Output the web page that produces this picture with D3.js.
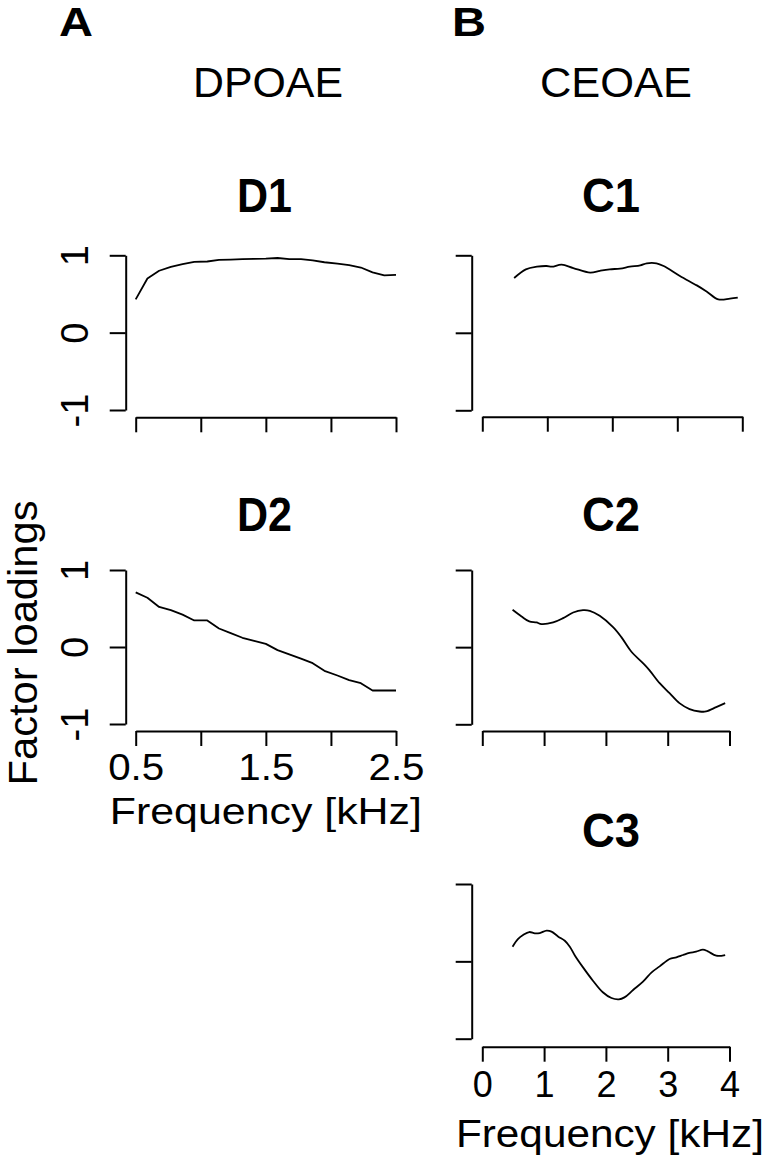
<!DOCTYPE html>
<html lang="en">
<head>
<meta charset="UTF-8">
<title>Factor loadings</title>
<script src="https://cdn.jsdelivr.net/npm/d3@7"></script>
<style>
  body { margin: 0; background: #fff; }
  text { font-family: "Liberation Sans", Arial, Helvetica, sans-serif; fill: #000; }
</style>
</head>
<body>
<div id="chart"></div>
<script>
// DPOAE factors (frequency in kHz)
var dFreq = [0.5, 0.59, 0.68, 0.77, 0.86, 0.95, 1.05, 1.14, 1.23, 1.32, 1.41, 1.5,
             1.59, 1.68, 1.77, 1.86, 1.95, 2.05, 2.14, 2.23, 2.32, 2.41, 2.5];
var d1 = [0.43, 0.70, 0.80, 0.85, 0.885, 0.915, 0.92, 0.94, 0.945, 0.95, 0.953, 0.957,
          0.965, 0.95, 0.95, 0.935, 0.91, 0.893, 0.872, 0.842, 0.78, 0.74, 0.748];
var d2 = [0.71, 0.64, 0.52, 0.48, 0.42, 0.345, 0.345, 0.24, 0.18, 0.12, 0.08, 0.04,
          -0.04, -0.095, -0.15, -0.21, -0.31, -0.37, -0.43, -0.47, -0.565, -0.565, -0.565];

// CEOAE factors
var c1Freq = [0.49, 0.67, 0.84, 0.99, 1.07, 1.22, 1.40, 1.66, 1.81, 1.96, 2.12, 2.27,
              2.43, 2.53, 2.68, 2.79, 3.04, 3.30, 3.45, 3.63, 3.81, 3.93];
var c1 = [0.707, 0.819, 0.853, 0.862, 0.853, 0.879, 0.836, 0.776, 0.80, 0.819, 0.828, 0.853,
          0.871, 0.897, 0.897, 0.862, 0.733, 0.612, 0.534, 0.431, 0.44, 0.453];
var c2Freq = [0.49, 0.635, 0.76, 0.877, 0.958, 1.147, 1.308, 1.47, 1.63, 1.739, 1.90, 2.116,
              2.25, 2.41, 2.60, 2.70, 2.87, 3.03, 3.19, 3.354, 3.515, 3.62, 3.785, 3.93];
var c2 = [0.484, 0.397, 0.333, 0.32, 0.298, 0.32, 0.376, 0.449, 0.479, 0.471, 0.406, 0.259,
          0.13, -0.056, -0.207, -0.294, -0.467, -0.596, -0.726, -0.803, -0.834, -0.834, -0.778, -0.726];
var c3Freq = [0.49, 0.58, 0.66, 0.76, 0.85, 0.93, 1.04, 1.12, 1.23, 1.335, 1.416, 1.50,
              1.63, 1.79, 1.95, 2.09, 2.21, 2.30, 2.44, 2.60, 2.74, 2.87, 3.03, 3.14,
              3.25, 3.35, 3.46, 3.57, 3.65, 3.785, 3.93];
var c3 = [0.19, 0.289, 0.34, 0.379, 0.362, 0.366, 0.397, 0.384, 0.319, 0.267, 0.19, 0.073,
          -0.078, -0.25, -0.40, -0.474, -0.491, -0.466, -0.371, -0.263, -0.142, -0.065, 0.03, 0.052,
          0.082, 0.108, 0.125, 0.151, 0.129, 0.073, 0.082];

var yTicks = [-1, 0, 1];
var yTickLabels = {"-1": "-1", "0": "0", "1": "1"};
var dTicks = [0.5, 1, 1.5, 2, 2.5];
var dTickLabels = {0.5: "0.5", 1.5: "1.5", 2.5: "2.5"};
var cTicks = [0, 1, 2, 3, 4];

var width = 767, height = 1166;
var svg = d3.select("#chart").append("svg").attr("width", width).attr("height", height);

// panel layout (pixels)
var panels = [
  {name: "D1", x: dFreq, y: d1, xd: [0.5, 2.5], xr: [135.7, 396], yr: [410, 255.3], ax: 125.7, ay: 417.3,
   ticks: dTicks, ylab: true, xlab: false, curve: d3.curveLinear, tx: 237, ty: 212, tl: 55},
  {name: "D2", x: dFreq, y: d2, xd: [0.5, 2.5], xr: [135.7, 396], yr: [724, 570], ax: 125.7, ay: 731,
   ticks: dTicks, ylab: true, xlab: true, curve: d3.curveLinear, tx: 237, ty: 531, tl: 55},
  {name: "C1", x: c1Freq, y: c1, xd: [0, 4], xr: [482.3, 742.3], yr: [410.3, 255.3], ax: 471.7, ay: 416.7,
   ticks: cTicks, ylab: false, xlab: false, curve: d3.curveCatmullRom, tx: 582, ty: 212, tl: 58},
  {name: "C2", x: c2Freq, y: c2, xd: [0, 4], xr: [482.3, 729.5], yr: [724.3, 570], ax: 471.7, ay: 731,
   ticks: cTicks, ylab: false, xlab: false, curve: d3.curveCatmullRom, tx: 582, ty: 531, tl: 58},
  {name: "C3", x: c3Freq, y: c3, xd: [0, 4], xr: [482.3, 729.5], yr: [1038.7, 884], ax: 471.7, ay: 1046.7,
   ticks: cTicks, ylab: false, xlab: true, curve: d3.curveCatmullRom, tx: 582, ty: 847, tl: 58}
];

panels.forEach(function(p) {
  var x = d3.scaleLinear().domain(p.xd).range(p.xr);
  var y = d3.scaleLinear().domain([-1, 1]).range(p.yr);

  // y axis, labels turned like R's las=0
  var ga = svg.append("g").attr("transform", "translate(" + p.ax + ",0)")
    .call(d3.axisLeft(y).tickValues(yTicks).tickSize(16).tickSizeOuter(0)
      .tickFormat(function(d) { return p.ylab ? yTickLabels[d] : ""; }));
  ga.selectAll("text")
    .attr("x", null).attr("dy", null).attr("y", 0)
    .attr("text-anchor", "middle")
    .attr("transform", "translate(-37.5,0) rotate(-90)")
    .style("font-size", "38px");

  // x axis
  var isC3 = p.name == "C3";
  var gx = svg.append("g").attr("transform", "translate(0," + p.ay + ")")
    .call(d3.axisBottom(x).tickValues(p.ticks).tickSize(15).tickSizeOuter(0)
      .tickFormat(function(d) {
        if (!p.xlab) return "";
        if (p.name == "D2") return dTickLabels[d] || "";
        return String(d);
      }));
  gx.selectAll("text").attr("dy", null)
    .style("font-size", "36px")
    .attr("y", isC3 ? 50.5 : 49);
  if (p.name == "D2") {
    gx.selectAll("text").filter(function(d) { return dTickLabels[d]; })
      .attr("textLength", 56).attr("lengthAdjust", "spacingAndGlyphs");
  }

  svg.selectAll(".domain, .tick line").attr("stroke", "#000").attr("stroke-width", 2);
  svg.selectAll(".tick text").attr("fill", "#000").attr("font-family", null);

  // data line
  var line = d3.line().x(function(d) { return x(d[0]); }).y(function(d) { return y(d[1]); }).curve(p.curve);
  svg.append("path").datum(d3.zip(p.x, p.y))
    .attr("d", line).attr("fill", "none").attr("stroke", "#000").attr("stroke-width", 1.8)
    .attr("stroke-linejoin", "round");

  // panel title
  svg.append("text").attr("x", p.tx).attr("y", p.ty)
    .attr("textLength", p.tl).attr("lengthAdjust", "spacingAndGlyphs")
    .style("font-size", "48px").style("font-weight", "bold").text(p.name);

  if (p.xlab) {
    svg.append("text").attr("x", (p.xr[0] + p.xr[1]) / 2 + (isC3 ? 4 : 0))
      .attr("y", isC3 ? 1147 : 824)
      .attr("text-anchor", "middle")
      .attr("textLength", isC3 ? 308 : 312).attr("lengthAdjust", "spacingAndGlyphs")
      .style("font-size", isC3 ? "39px" : "37px").text("Frequency [kHz]");
  }
});

// column headers
svg.append("text").attr("x", 59).attr("y", 36).attr("textLength", 34).attr("lengthAdjust", "spacingAndGlyphs")
  .style("font-size", "40px").style("font-weight", "bold").text("A");
svg.append("text").attr("x", 452).attr("y", 36).attr("textLength", 34).attr("lengthAdjust", "spacingAndGlyphs")
  .style("font-size", "40px").style("font-weight", "bold").text("B");
svg.append("text").attr("x", 193).attr("y", 97).attr("textLength", 150).attr("lengthAdjust", "spacingAndGlyphs")
  .style("font-size", "43px").text("DPOAE");
svg.append("text").attr("x", 540).attr("y", 97).attr("textLength", 152).attr("lengthAdjust", "spacingAndGlyphs")
  .style("font-size", "43px").text("CEOAE");

// shared y label
svg.append("text").attr("transform", "translate(37,643) rotate(-90)")
  .attr("text-anchor", "middle").attr("textLength", 285).attr("lengthAdjust", "spacingAndGlyphs")
  .style("font-size", "40px").text("Factor loadings");
</script>
</body>
</html>
